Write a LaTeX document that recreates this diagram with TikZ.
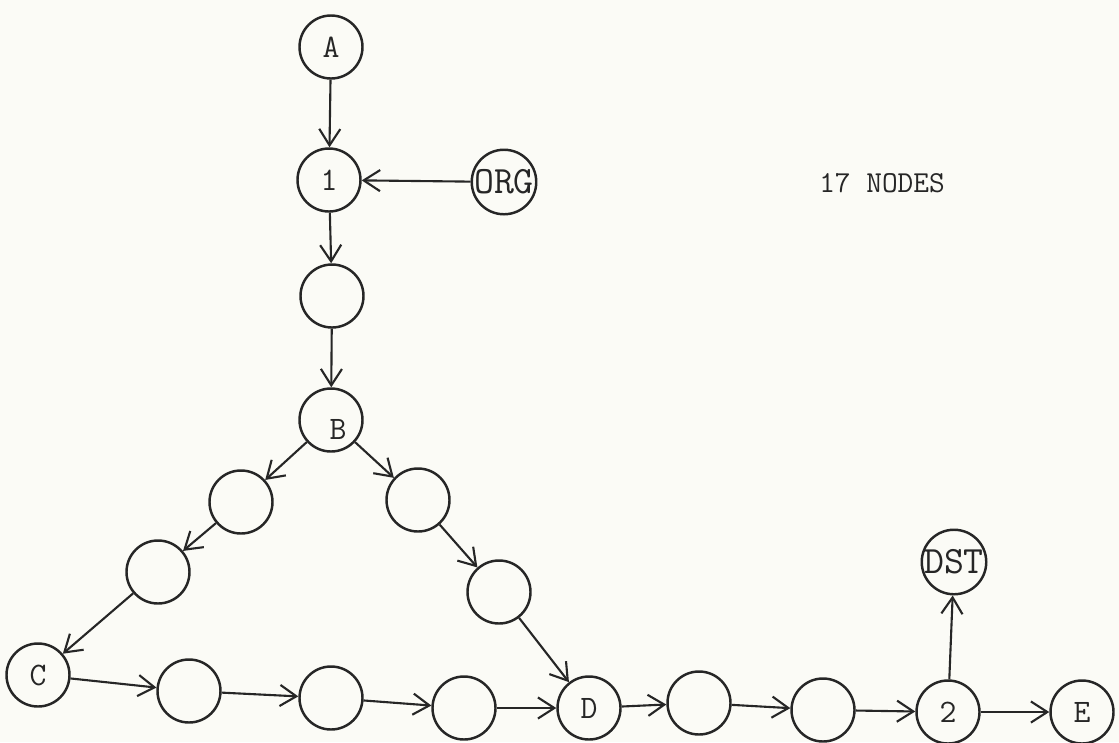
\documentclass[tikz,border=0pt]{standalone}
\usetikzlibrary{arrows.meta}
\definecolor{ink}{HTML}{262626}
\definecolor{paper}{HTML}{FBFBF6}
\begin{document}
\begin{tikzpicture}[x=0.03cm,y=-0.03cm,
  nd/.style={circle,draw=ink,line width=2.1pt,minimum size=1.89cm,inner sep=0pt,
    text=ink,font=\ttfamily\fontsize{28}{28}\selectfont},
  big/.style={font=\ttfamily\fontsize{33}{33}\selectfont},
  lbl/.style={text=ink,font=\ttfamily\fontsize{28}{28}\selectfont},
  edge/.style={draw=ink,line width=1.8pt,
    -{Straight Barb[length=14pt,width=18pt,line width=1.8pt]}},
]
% page
\fill[paper] (0,0) rectangle (1119,742);
\useasboundingbox (0,0) rectangle (1119,742);

% upper chain
\node[nd] (A)   at (331,47)  {A};
\node[nd] (n1)  at (329,180) {1};
\node[nd,big] (ORG) at (504,182) {ORG};
\node[nd] (e1)  at (332,296) {};
\node[nd,label={[lbl,xshift=0.21cm,yshift=-0.27cm]center:B}] (B) at (331,420) {};

% left branch
\node[nd] (L1)  at (241,502) {};
\node[nd] (L2)  at (158,572) {};
\node[nd] (C)   at (38,675)  {C};

% right branch
\node[nd] (R1)  at (418,500) {};
\node[nd] (R2)  at (499,592) {};

% bottom row
\node[nd] (b1)  at (189,691) {};
\node[nd] (b2)  at (331,698) {};
\node[nd] (b3)  at (464,708) {};
\node[nd] (D)   at (589,708) {D};
\node[nd] (d1)  at (699,703) {};
\node[nd] (d2)  at (823,710) {};
\node[nd] (n2)  at (948,712) {2};
\node[nd] (E)   at (1082,712) {E};
\node[nd,big] (DST) at (954,562) {DST};

% caption
\node[lbl,font=\ttfamily\fontsize{26}{26}\selectfont] (cap) at (882,183) {17 NODES};

% connectors
\draw[edge] (A) -- (n1);
\draw[edge] (ORG) -- (n1);
\draw[edge] (n1) -- (e1);
\draw[edge] (e1) -- (B);
\draw[edge] (B) -- (L1);
\draw[edge] (L1) -- (L2);
\draw[edge] (L2) -- (C);
\draw[edge] (B) -- (R1);
\draw[edge] (R1) -- (R2);
\draw[edge] (R2) -- (D);
\draw[edge] (C) -- (b1);
\draw[edge] (b1) -- (b2);
\draw[edge] (b2) -- (b3);
\draw[edge] (b3) -- (D);
\draw[edge] (D) -- (d1);
\draw[edge] (d1) -- (d2);
\draw[edge] (d2) -- (n2);
\draw[edge] (n2) -- (E);
\draw[edge] (n2) -- (DST);
\end{tikzpicture}
\end{document}
